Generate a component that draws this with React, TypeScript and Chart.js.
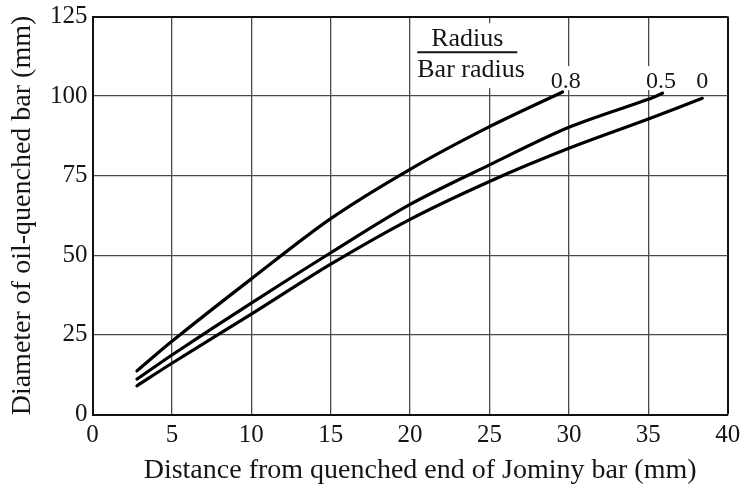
import React, { useEffect, useRef } from 'react';
import { Chart, registerables } from 'chart.js';

Chart.register(...registerables);

// ---- data ----
const xTickValues = [0, 5, 10, 15, 20, 25, 30, 35, 40];
const yTickValues = [0, 25, 50, 75, 100, 125];

const seriesNames = ['0.8', '0.5', '0'];

const x08 = [2.8, 5, 10, 15, 20, 25, 29.6];
const y08 = [13.7, 23, 42.6, 61.5, 77, 90.4, 101.3];

const x05 = [2.8, 5, 10, 15, 20, 25, 30, 35, 35.9];
const y05 = [11.1, 18.7, 35, 50.8, 66, 78.4, 90.2, 99.0, 100.9];

const x00 = [2.8, 5, 10, 15, 20, 25, 30, 35, 38.4];
const y00 = [9.0, 16.1, 31.5, 47.2, 61.3, 73.2, 83.6, 92.8, 99.3];

// curve label anchors (data units)
const labelX = [29.8, 35.8, 38.4];
const labelY = [102.5, 102.5, 102.5];

const fracTop = 'Radius';
const fracBottom = 'Bar radius';
const fracX = 23.6;
const fracY = 113.8;

const xTitle = 'Distance from quenched end of Jominy bar (mm)';
const yTitle = 'Diameter of oil-quenched bar (mm)';

const FONT = '"Liberation Serif", "Times New Roman", serif';
const INK = '#151515';

const toPoints = (xs: number[], ys: number[]) => xs.map((x, i) => ({ x, y: ys[i] }));

const annotPlugin = {
  id: 'annot',
  beforeDatasetsDraw(chart: any) {
    const { ctx } = chart;
    const sx = chart.scales.x;
    const sy = chart.scales.y;
    ctx.save();
    // fraction label
    const cx = sx.getPixelForValue(fracX);
    const ly = sy.getPixelForValue(fracY);
    ctx.fillStyle = '#ffffff';
    ctx.fillRect(cx - 55, ly - 29, 115, 65);
    ctx.fillStyle = INK;
    ctx.font = `26px ${FONT}`;
    ctx.textBaseline = 'alphabetic';
    ctx.textAlign = 'center';
    ctx.fillText(fracTop, cx, ly - 6);
    ctx.textAlign = 'left';
    ctx.fillText(fracBottom, cx - 50, ly + 25);
    ctx.strokeStyle = INK;
    ctx.lineWidth = 2;
    ctx.beginPath();
    ctx.moveTo(cx - 50, ly);
    ctx.lineTo(cx + 50, ly);
    ctx.stroke();

    // curve labels
    ctx.font = `24px ${FONT}`;
    ctx.textAlign = 'center';
    seriesNames.forEach((name, i) => {
      const px = sx.getPixelForValue(labelX[i]);
      const py = sy.getPixelForValue(labelY[i]);
      const w = ctx.measureText(name).width;
      ctx.fillStyle = '#ffffff';
      ctx.fillRect(px - w / 2 - 3, py - 22, w + 6, 24);
      ctx.fillStyle = INK;
      ctx.fillText(name, px, py);
    });
    ctx.restore();
  },
  afterDraw(chart: any) {
    const { ctx, chartArea } = chart;
    ctx.save();
    ctx.font = `28px ${FONT}`;
    ctx.fillStyle = INK;
    ctx.textAlign = 'center';
    ctx.textBaseline = 'alphabetic';
    ctx.fillText(xTitle, (chartArea.left + chartArea.right) / 2 + 10, chart.height - 8);
    ctx.restore();
  },
};

export default function App() {
  const ref = useRef<HTMLCanvasElement | null>(null);

  useEffect(() => {
    if (!ref.current) return;
    Chart.defaults.font.family = FONT;
    Chart.defaults.color = INK;
    const mk = (xs: number[], ys: number[], label: string) => ({
      label,
      data: toPoints(xs, ys),
      borderColor: '#000',
      borderWidth: 3.2,
      pointRadius: 0,
      fill: false,
      tension: 0.3,
      borderCapStyle: 'round' as const,
    });
    const chart = new Chart(ref.current, {
      type: 'line',
      data: {
        datasets: [
          mk(x08, y08, seriesNames[0]),
          mk(x05, y05, seriesNames[1]),
          mk(x00, y00, seriesNames[2]),
        ],
      },
      options: {
        animation: false,
        responsive: false,
        parsing: false as any,
        layout: { padding: { left: 0, right: 12.3, top: 16.5, bottom: 0 } },
        plugins: { legend: { display: false }, tooltip: { enabled: false } },
        scales: {
          x: {
            type: 'linear',
            min: 0,
            max: 40,
            afterBuildTicks: (s: any) => {
              s.ticks = xTickValues.map((v) => ({ value: v }));
            },
            afterFit: (s: any) => {
              s.height = 71.5;
              s.paddingRight = 0;
              s.paddingLeft = 0;
            },
            ticks: { font: { size: 25 }, color: INK, padding: 6, maxRotation: 0 },
            grid: {
              drawTicks: false,
              color: (c: any) => (c.tick && c.tick.value === 40 ? '#111' : '#4a4a4a'),
              lineWidth: (c: any) => (c.tick && c.tick.value === 40 ? 2 : 1.3),
            },
            border: { display: true, color: '#111', width: 2 },
            title: { display: false, text: xTitle },
          },
          y: {
            type: 'linear',
            min: 0,
            max: 125,
            afterBuildTicks: (s: any) => {
              s.ticks = yTickValues.map((v) => ({ value: v }));
            },
            afterFit: (s: any) => {
              s.width = 92.5;
              s.paddingTop = 0;
              s.paddingBottom = 0;
            },
            ticks: { font: { size: 25 }, color: INK, padding: 5 },
            grid: {
              drawTicks: false,
              color: (c: any) => (c.tick && c.tick.value === 125 ? '#111' : '#4a4a4a'),
              lineWidth: (c: any) => (c.tick && c.tick.value === 125 ? 2 : 1.3),
            },
            border: { display: true, color: '#111', width: 2 },
            title: { display: true, text: yTitle, font: { size: 28 }, color: INK, padding: { top: 6, bottom: 0 } },
          },
        },
      },
      plugins: [annotPlugin],
    });
    return () => chart.destroy();
  }, []);

  return (
    <div style={{ position: 'absolute', left: 0, top: 0, width: 740, height: 486, background: '#fff', overflow: 'hidden' }}>
      <canvas ref={ref} width={740} height={486} />
    </div>
  );
}
